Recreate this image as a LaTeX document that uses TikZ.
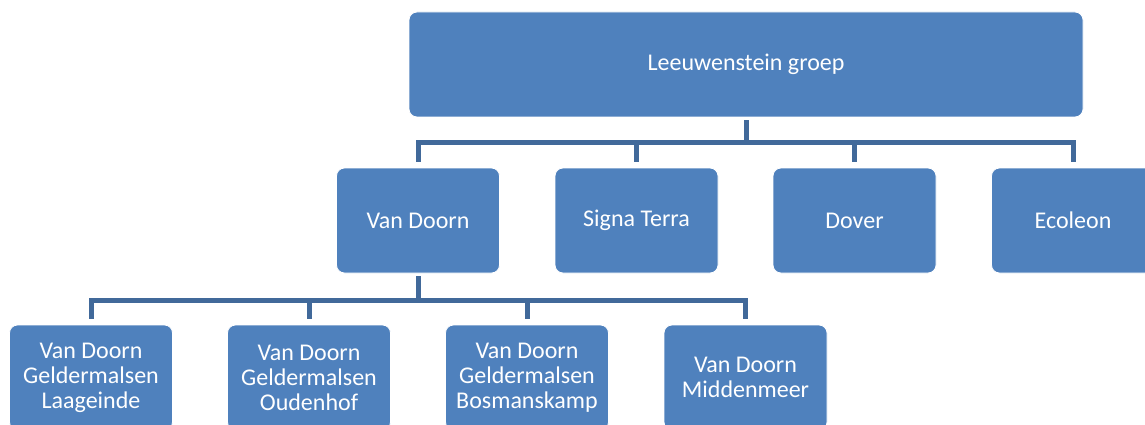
\documentclass[tikz,border=0pt]{standalone}
\usepackage{fontspec}
\setmainfont{Carlito}
\definecolor{boxblue}{HTML}{4F81BD}
\definecolor{linkblue}{HTML}{41699A}
\begin{document}
\begin{tikzpicture}[x=1pt,y=-1pt,
  orgbox/.style={draw=white, line width=0.8pt, fill=boxblue, rounded corners=8pt,
    minimum width=163pt, minimum height=105pt, text=white,
    font=\fontsize{24}{25}\selectfont, align=center, inner sep=0pt},
  link/.style={draw=linkblue, line width=5pt}]
\useasboundingbox (0,0) rectangle (1145,425);
\clip (0,0) rectangle (1145,425);
% top
\node[orgbox, minimum width=674pt] (top) at (746,64.5) {Leeuwenstein groep};
% row 2
\node[orgbox] (vd)  at (418,220.5)  {Van Doorn};
\node[orgbox] (st)  at (636.5,220.5) {Signa Terra};
\node[orgbox] (dov) at (854.5,220.5) {Dover};
\node[orgbox] (eco) at (1073,220.5) {Ecoleon};
% row 3
\node[orgbox] (la) at (91,377.5)    {Van Doorn\\Geldermalsen\\Laageinde};
\node[orgbox] (ou) at (309,377.5)   {Van Doorn\\Geldermalsen\\Oudenhof};
\node[orgbox] (bo) at (527,377.5)   {Van Doorn\\Geldermalsen\\Bosmanskamp};
\node[orgbox] (mi) at (745.5,377.5) {Van Doorn\\Middenmeer};
% connectors
\coordinate (bus1) at (746,142.5);
\coordinate (bus2) at (418,300);
\draw[link] ([yshift=-3pt]top.south) -- (bus1);
\draw[link] ([yshift=6pt]vd.north) |- (eco.north |- bus1) -- ([yshift=6pt]eco.north);
\draw[link] ([yshift=6pt]st.north) -- (st.north |- bus1);
\draw[link] ([yshift=6pt]dov.north) -- (dov.north |- bus1);
\draw[link] ([yshift=-3pt]vd.south) -- (bus2);
\draw[link] ([yshift=6pt]la.north) |- (mi.north |- bus2) -- ([yshift=6pt]mi.north);
\draw[link] ([yshift=6pt]ou.north) -- (ou.north |- bus2);
\draw[link] ([yshift=6pt]bo.north) -- (bo.north |- bus2);
\end{tikzpicture}
\end{document}
